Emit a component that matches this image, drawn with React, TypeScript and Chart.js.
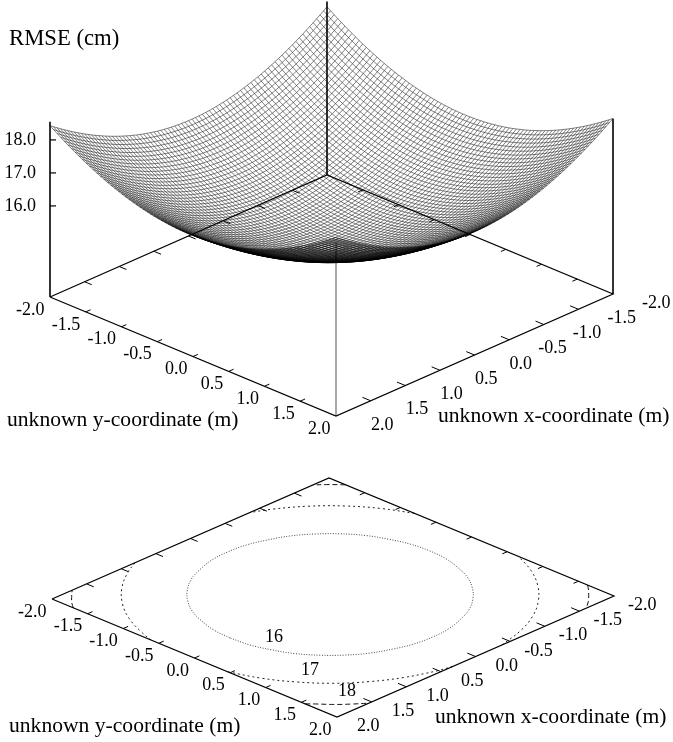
import React, { useEffect, useRef } from "react";
import { Chart, registerables } from "chart.js";

Chart.register(...registerables);

// Axis ticks
const axisTicks = [-2, -1.5, -1, -0.5, 0, 0.5, 1, 1.5, 2];
const zTicks = [16, 17, 18];
const zTickLabels = ["16.0", "17.0", "18.0"];

// Mesh node coordinates (81 lines per direction)
const meshX = [-2,-1.95,-1.9,-1.85,-1.8,-1.75,-1.7,-1.65,-1.6,-1.55,-1.5,-1.45,-1.4,-1.35,-1.3,-1.25,-1.2,-1.15,-1.1,-1.05,-1,-0.95,-0.9,-0.85,-0.8,-0.75,-0.7,-0.65,-0.6,-0.55,-0.5,-0.45,-0.4,-0.35,-0.3,-0.25,-0.2,-0.15,-0.1,-0.05,0,0.05,0.1,0.15,0.2,0.25,0.3,0.35,0.4,0.45,0.5,0.55,0.6,0.65,0.7,0.75,0.8,0.85,0.9,0.95,1,1.05,1.1,1.15,1.2,1.25,1.3,1.35,1.4,1.45,1.5,1.55,1.6,1.65,1.7,1.75,1.8,1.85,1.9,1.95,2];
const meshY = meshX;

// RMSE cross-sections (contours 16/17/18 and corner heights).
// The mesh nodes combine these two profiles in quadrature; they are not an independently read 81x81 table.
const rmseAlongX = [16.801,16.717,16.634,16.554,16.475,16.398,16.323,16.25,16.178,16.109,16.042,15.976,15.913,15.851,15.792,15.735,15.68,15.627,15.576,15.527,15.48,15.436,15.394,15.354,15.317,15.281,15.248,15.217,15.189,15.163,15.139,15.118,15.099,15.083,15.068,15.057,15.047,15.04,15.036,15.034,15.034,15.036,15.041,15.049,15.059,15.071,15.086,15.103,15.122,15.144,15.168,15.195,15.224,15.255,15.288,15.324,15.362,15.402,15.445,15.49,15.537,15.586,15.637,15.69,15.746,15.804,15.864,15.925,15.989,16.055,16.123,16.193,16.264,16.338,16.413,16.491,16.57,16.651,16.734,16.818,16.904];
const rmseAlongY = [16.734,16.651,16.57,16.491,16.413,16.338,16.264,16.193,16.123,16.055,15.989,15.925,15.864,15.804,15.746,15.69,15.637,15.586,15.537,15.49,15.445,15.402,15.362,15.324,15.288,15.255,15.224,15.195,15.168,15.144,15.122,15.103,15.086,15.071,15.059,15.049,15.041,15.036,15.034,15.034,15.036,15.04,15.047,15.057,15.068,15.083,15.099,15.118,15.139,15.163,15.189,15.217,15.248,15.281,15.317,15.354,15.394,15.436,15.48,15.527,15.576,15.627,15.68,15.735,15.792,15.851,15.913,15.976,16.042,16.109,16.178,16.25,16.323,16.398,16.475,16.554,16.634,16.717,16.801,16.887,16.975];
const rmseFloor = 15.033;

// Contour lines in unknown-coordinate space
const contour16X = [1.41,1.39,1.32,1.22,1.07,0.9,0.69,0.46,0.22,-0.03,-0.28,-0.52,-0.75,-0.96,-1.13,-1.28,-1.38,-1.45,-1.47,-1.45,-1.38,-1.28,-1.13,-0.96,-0.75,-0.52,-0.28,-0.03,0.22,0.46,0.69,0.9,1.07,1.22,1.32,1.39,1.41];
const contour16Y = [-0.07,0.18,0.42,0.65,0.86,1.03,1.18,1.28,1.35,1.37,1.35,1.28,1.18,1.03,0.86,0.65,0.42,0.18,-0.07,-0.32,-0.56,-0.79,-1,-1.17,-1.32,-1.42,-1.49,-1.51,-1.49,-1.42,-1.32,-1.17,-1,-0.79,-0.56,-0.32,-0.07];
const contour17ArcsX = [
  [2,1.87,1.69,1.455,1.17,0.86,0.51,0.32],
  [-0.38,-0.75,-1.08,-1.38,-1.64,-1.85,-2],
  [-2,-1.85,-1.64,-1.38,-1.08,-0.86],
  [0.8,1.02,1.32,1.58,1.79,1.94,2],
];
const contour17ArcsY = [
  [0.47,0.82,1.13,1.415,1.65,1.83,1.96,2],
  [2,1.9,1.75,1.54,1.28,0.98,0.66],
  [-0.8,-1.12,-1.42,-1.68,-1.89,-2],
  [-2,-1.89,-1.68,-1.42,-1.12,-0.79,-0.61],
];
const contour18ArcsX = [
  [2,1.93,1.84,1.71],
  [2,1.93,1.81,1.68,1.543],
  [-2,-1.92,-1.83,-1.72,-1.6],
  [-2,-1.87,-1.77],
];
const contour18ArcsY = [
  [-1.7,-1.79,-1.88,-2],
  [1.555,1.63,1.77,1.89,2],
  [1.63,1.72,1.81,1.91,2],
  [-1.77,-1.91,-2],
];

type P = { x: number; y: number };

const upper = { cx: 331.5, cy: 295.5, ex: [-69.25, 30.5], ey: [71.5, 29.75], zPx: 33, zBase: 13.24 };
const lower = { cx: 333, cy: 597.5, ex: [-69.25, 30.25], ey: [71.25, 29.5], zPx: 0, zBase: 0 };

function project(v: typeof upper, x: number, y: number, z = v.zBase): P {
  return {
    x: v.cx + x * v.ex[0] + y * v.ey[0],
    y: v.cy + x * v.ex[1] + y * v.ey[1] - (z - v.zBase) * v.zPx,
  };
}

function line(data: P[], width: number, color: string, dash: number[] = [], tension = 0) {
  return {
    type: "scatter" as const,
    data,
    showLine: true,
    borderWidth: width,
    borderColor: color,
    borderDash: dash,
    tension,
    pointRadius: 0,
    fill: false,
  };
}

function boxAndTicks(v: typeof upper) {
  const out: any[] = [];
  const corners = [project(v, 2, -2), project(v, 2, 2), project(v, -2, 2), project(v, -2, -2), project(v, 2, -2)];
  out.push(line(corners, 1.2, "#000"));
  for (const t of axisTicks.slice(1, -1)) {
    out.push(line([project(v, 2, t), project(v, 1.93, t)], 1, "#000"));
    out.push(line([project(v, -2, t), project(v, -1.93, t)], 1, "#000"));
    out.push(line([project(v, t, 2), project(v, t, 1.885)], 1, "#000"));
    out.push(line([project(v, t, -2), project(v, t, -1.9)], 1, "#000"));
  }
  return out;
}

function surfaceZ(i: number, j: number) {
  return Math.sqrt(rmseAlongX[i] ** 2 + rmseAlongY[j] ** 2 - rmseFloor ** 2);
}

function buildDatasets() {
  const ds: any[] = [];
  const meshColor = "rgba(0,0,0,0.62)";
  meshX.forEach((x, i) => {
    ds.push(line(meshY.map((y, j) => project(upper, x, y, surfaceZ(i, j))), 0.8, meshColor));
  });
  meshY.forEach((y, j) => {
    ds.push(line(meshX.map((x, i) => project(upper, x, y, surfaceZ(i, j))), 0.8, meshColor));
  });
  ds.push(...boxAndTicks(upper));
  const top = 18.5;
  ds.push(line([project(upper, 2, -2), project(upper, 2, -2, top + 0.05)], 1.6, "#000"));
  ds.push(line([project(upper, -2, -2), project(upper, -2, -2, top)], 1.6, "#000"));
  ds.push(line([project(upper, -2, 2), project(upper, -2, 2, top + 0.05)], 1.6, "#000"));
  ds.push(line([project(upper, 2, 2), project(upper, 2, 2, top)], 1.3, "#777"));
  for (const z of zTicks) {
    const p = project(upper, 2, -2, z);
    ds.push(line([p, { x: p.x + 6, y: p.y }], 1.2, "#000"));
  }
  ds.push(...boxAndTicks(lower));
  const pts = (xs: number[], ys: number[]) => xs.map((x, k) => project(lower, x, ys[k]));
  ds.push(line(pts(contour16X, contour16Y), 0.9, "#333", [1, 1.6], 0.4));
  contour17ArcsX.forEach((xs, k) => ds.push(line(pts(xs, contour17ArcsY[k]), 1, "#222", [2, 3], 0.4)));
  contour18ArcsX.forEach((xs, k) => ds.push(line(pts(xs, contour18ArcsY[k]), 1, "#111", [5, 3], 0.4)));
  return ds;
}

const TICK_FONT = '18px "Liberation Serif"';
const AXIS_FONT = '21.6px "Liberation Serif"';
const UNIT_FONT = '22.7px "Liberation Serif"';

const textPlugin = {
  id: "plotText",
  afterDatasetsDraw(chart: any) {
    const { ctx, scales } = chart;
    const put = (s: string, px: number, py: number, align: CanvasTextAlign = "left") => {
      ctx.textAlign = align;
      ctx.fillText(s, scales.x.getPixelForValue(px), scales.y.getPixelForValue(py));
    };
    ctx.save();
    ctx.fillStyle = "#000";
    ctx.textBaseline = "middle";
    ctx.font = TICK_FONT;
    for (const t of axisTicks) {
      const a = project(upper, 2, t);
      put(t.toFixed(1), a.x - 5.5, a.y + 13, "right");
      const b = project(upper, t, 2);
      put(t.toFixed(1), b.x + 57.5, b.y + 9, "right");
      const c = project(lower, 2, t);
      put(t.toFixed(1), c.x - 5.5, c.y + 13, "right");
      const d = project(lower, t, 2);
      put(t.toFixed(1), d.x + 42.5, d.y + 9.5, "right");
    }
    zTicks.forEach((z, k) => {
      const p = project(upper, 2, -2, z);
      put(zTickLabels[k], p.x - 14, p.y + 0.5, "right");
    });
    put("16", 274, 637, "center");
    put("17", 310, 670, "center");
    put("18", 347, 691, "center");
    ctx.font = UNIT_FONT;
    put("RMSE (cm)", 9, 39);
    ctx.font = AXIS_FONT;
    put("unknown y-coordinate (m)", 7, 420);
    put("unknown x-coordinate (m)", 438, 416);
    put("unknown y-coordinate (m)", 9, 726);
    put("unknown x-coordinate (m)", 435, 717);
    ctx.restore();
  },
};

export default function App() {
  const ref = useRef<HTMLCanvasElement>(null);
  useEffect(() => {
    const chart = new Chart(ref.current!, {
      type: "scatter",
      data: { datasets: buildDatasets() },
      options: {
        animation: false,
        responsive: false,
        devicePixelRatio: 1,
        layout: { padding: 0 },
        events: [],
        plugins: { legend: { display: false }, tooltip: { enabled: false }, title: { display: false } },
        scales: {
          x: { type: "linear", display: false, min: 0, max: 673 },
          y: { type: "linear", display: false, min: 0, max: 742, reverse: true },
        },
      },
      plugins: [textPlugin],
    } as any);
    return () => chart.destroy();
  }, []);
  return (
    <div style={{ position: "absolute", left: 0, top: 0, width: 673, height: 742, background: "#fff" }}>
      <canvas ref={ref} width={673} height={742} style={{ display: "block" }} />
    </div>
  );
}
